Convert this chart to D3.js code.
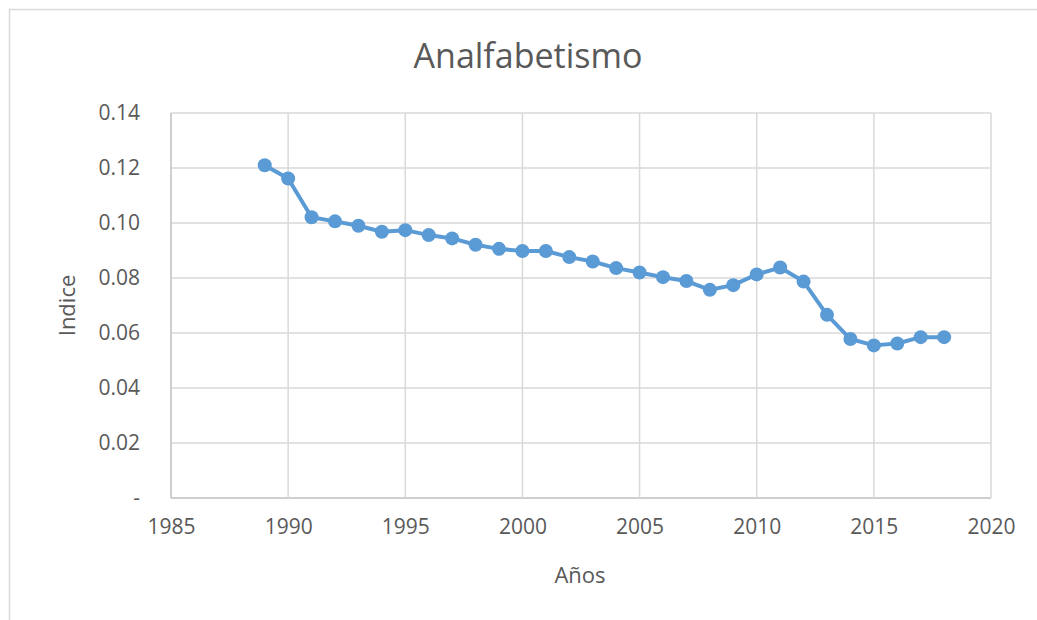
<!DOCTYPE html>
<html>
<head>
<meta charset="utf-8">
<script src="https://cdn.jsdelivr.net/npm/d3@7"></script>
<style>
  body { margin: 0; background: #fff; }
  text { font-family: "Open Sans", "Noto Sans", sans-serif; fill: #595959; }
</style>
</head>
<body>
<div id="root"></div>
<script>
var width = 1037;
var height = 620;

// data
var years = [1989, 1990, 1991, 1992, 1993, 1994, 1995, 1996, 1997, 1998,
  1999, 2000, 2001, 2002, 2003, 2004, 2005, 2006, 2007, 2008,
  2009, 2010, 2011, 2012, 2013, 2014, 2015, 2016, 2017, 2018];
var indice = [0.1210, 0.1162, 0.1021, 0.1006, 0.0990, 0.0968, 0.0974, 0.0956, 0.0944, 0.0921,
  0.0906, 0.0898, 0.0898, 0.0876, 0.0860, 0.0836, 0.0820, 0.0803, 0.0789, 0.0757,
  0.0774, 0.0813, 0.0838, 0.0787, 0.0666, 0.0578, 0.0555, 0.0562, 0.0585, 0.0585];
var xTicks = [1985, 1990, 1995, 2000, 2005, 2010, 2015, 2020];
var yTicks = [0, 0.02, 0.04, 0.06, 0.08, 0.10, 0.12, 0.14];

var padding = { left: 171, right: 46, top: 113, bottom: 122 };

var svg = d3.select('#root')
    .append('svg')
    .attr('width', width).attr('height', height);

// chart frame
svg.append('rect')
    .attr('x', 9.5).attr('y', 9.5)
    .attr('width', width + 20).attr('height', height + 20)
    .attr('fill', 'none')
    .attr('stroke', '#d9d9d9')
    .attr('stroke-width', 1.5);

var xScale = d3.scaleLinear()
    .domain([1985, 2020])
    .range([padding.left, width - padding.right]);
var yScale = d3.scaleLinear()
    .domain([0, 0.14])
    .range([height - padding.bottom, padding.top]);

// gridlines
svg.selectAll('.hgrid')
    .data(yTicks).enter()
    .append('line')
    .attr('class', 'hgrid')
    .attr('x1', xScale(1985)).attr('x2', xScale(2020))
    .attr('y1', function (d) { return yScale(d); })
    .attr('y2', function (d) { return yScale(d); })
    .attr('stroke', function (d) { return d === 0 ? '#bfbfbf' : '#d9d9d9'; })
    .attr('stroke-width', 1.5);
svg.selectAll('.vgrid')
    .data(xTicks).enter()
    .append('line')
    .attr('class', 'vgrid')
    .attr('x1', function (d) { return xScale(d); })
    .attr('x2', function (d) { return xScale(d); })
    .attr('y1', yScale(0)).attr('y2', yScale(0.14))
    .attr('stroke', function (d) { return d === 1985 ? '#bfbfbf' : '#d9d9d9'; })
    .attr('stroke-width', 1.5);

// axes (labels only)
var yAxis = d3.axisLeft(yScale)
    .tickValues(yTicks)
    .tickSize(0)
    .tickPadding(31)
    .tickFormat(function (d) { return d === 0 ? '-' : d3.format('.2f')(d); });
var gy = svg.append('g')
    .attr('transform', 'translate(' + padding.left + ',0)')
    .call(yAxis);
gy.select('.domain').remove();
gy.selectAll('text').style('font-size', '21px').attr('fill', '#595959');

var xAxis = d3.axisBottom(xScale)
    .tickValues(xTicks)
    .tickSize(0)
    .tickPadding(21)
    .tickFormat(d3.format('d'));
var gx = svg.append('g')
    .attr('transform', 'translate(0,' + (height - padding.bottom) + ')')
    .call(xAxis);
gx.select('.domain').remove();
gx.selectAll('text').style('font-size', '21px').attr('fill', '#595959');

// line + markers
var line = d3.line()
    .x(function (d, i) { return xScale(years[i]); })
    .y(function (d) { return yScale(d); });
svg.append('path')
    .datum(indice)
    .attr('d', line)
    .attr('fill', 'none')
    .attr('stroke', '#5b9bd5')
    .attr('stroke-width', 4)
    .attr('stroke-linejoin', 'round');
svg.selectAll('.dot')
    .data(indice).enter()
    .append('circle')
    .attr('class', 'dot')
    .attr('cx', function (d, i) { return xScale(years[i]); })
    .attr('cy', function (d) { return yScale(d); })
    .attr('r', 7)
    .attr('fill', '#5b9bd5');

// titles
svg.append('text')
    .attr('x', 528).attr('y', 68)
    .attr('text-anchor', 'middle')
    .style('font-size', '34px')
    .text('Analfabetismo');
svg.append('text')
    .attr('x', 580).attr('y', 583)
    .attr('text-anchor', 'middle')
    .style('font-size', '22px')
    .text('Años');
svg.append('text')
    .attr('transform', 'translate(75,' + yScale(0.07) + ') rotate(-90)')
    .attr('text-anchor', 'middle')
    .style('font-size', '22px')
    .text('Indice');
</script>
</body>
</html>
